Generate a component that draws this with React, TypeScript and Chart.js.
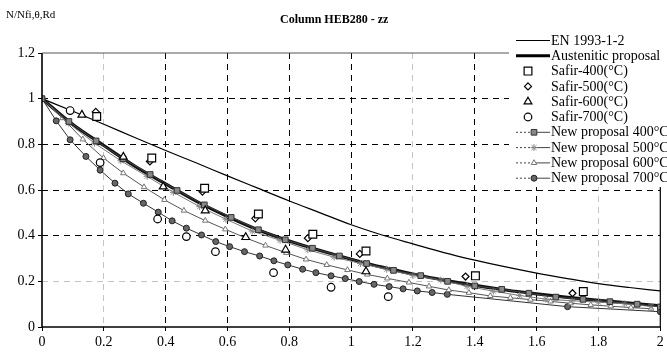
import React, { useEffect, useRef } from 'react';
import { Chart, registerables } from 'chart.js';
Chart.register(...registerables);

const TITLE = 'Column HEB280 - zz';
const Y_LABEL = 'N/Nfi,θ,Rd';
const X_TICKS = [0, 0.2, 0.4, 0.6, 0.8, 1, 1.2, 1.4, 1.6, 1.8, 2];
const Y_TICKS = [0, 0.2, 0.4, 0.6, 0.8, 1, 1.2];

const EN_X = [0, 0.1, 0.2, 0.3, 0.4, 0.5, 0.6, 0.7, 0.8, 0.9, 1.0, 1.1, 1.2, 1.3, 1.4, 1.5, 1.6, 1.7, 1.8, 1.9, 2.0];
const EN_Y = [1, 0.945, 0.888, 0.83, 0.773, 0.718, 0.662, 0.607, 0.552, 0.5, 0.448, 0.403, 0.364, 0.326, 0.293, 0.263, 0.236, 0.212, 0.19, 0.173, 0.158];

const AUS_X = [0, 0.1, 0.2, 0.3, 0.4, 0.5, 0.6, 0.7, 0.8, 0.9, 1.0, 1.1, 1.2, 1.3, 1.4, 1.5, 1.6, 1.7, 1.8, 1.9, 2.0];
const AUS_Y = [1, 0.887, 0.795, 0.705, 0.627, 0.55, 0.484, 0.425, 0.377, 0.335, 0.297, 0.262, 0.232, 0.205, 0.182, 0.162, 0.145, 0.13, 0.117, 0.105, 0.093];

const S400_X = [0.177, 0.355, 0.526, 0.7, 0.876, 1.048, 1.402, 1.751];
const S400_Y = [0.922, 0.74, 0.608, 0.495, 0.406, 0.333, 0.224, 0.155];
const S500_X = [0.174, 0.349, 0.519, 0.69, 0.86, 1.028, 1.37, 1.716];
const S500_Y = [0.942, 0.725, 0.593, 0.476, 0.389, 0.32, 0.221, 0.148];
const S600_X = [0.129, 0.263, 0.392, 0.528, 0.659, 0.788, 1.048];
const S600_Y = [0.929, 0.745, 0.615, 0.51, 0.393, 0.338, 0.243];
const S700_X = [0.091, 0.188, 0.374, 0.467, 0.561, 0.749, 0.935, 1.12];
const S700_Y = [0.948, 0.72, 0.473, 0.396, 0.33, 0.238, 0.174, 0.133];

const NP400_X = [0, 0.087, 0.175, 0.262, 0.35, 0.437, 0.525, 0.612, 0.7, 0.787, 0.875, 0.962, 1.05, 1.137, 1.225, 1.312, 1.4, 1.487, 1.575, 1.662, 1.75, 1.837, 1.925, 2.0];
const NP400_Y = [1, 0.9, 0.815, 0.737, 0.668, 0.598, 0.535, 0.48, 0.426, 0.382, 0.345, 0.311, 0.278, 0.248, 0.225, 0.2, 0.18, 0.165, 0.148, 0.131, 0.121, 0.111, 0.1, 0.088];
const NP500_X = [0, 0.085, 0.17, 0.255, 0.34, 0.425, 0.51, 0.595, 0.68, 0.77, 0.86, 0.945, 1.03, 1.115, 1.2, 1.29, 1.375, 1.46, 1.545, 1.63, 1.715, 1.8, 1.885, 1.97];
const NP500_Y = [1, 0.893, 0.805, 0.728, 0.66, 0.59, 0.527, 0.472, 0.42, 0.38, 0.338, 0.306, 0.278, 0.253, 0.226, 0.206, 0.178, 0.157, 0.138, 0.122, 0.115, 0.109, 0.102, 0.09];
const NP600_X = [0, 0.066, 0.132, 0.199, 0.263, 0.33, 0.396, 0.459, 0.528, 0.593, 0.659, 0.723, 0.79, 0.854, 0.921, 0.988, 1.052, 1.117, 1.187, 1.252, 1.316, 1.381, 1.45, 1.515, 1.58, 1.645, 1.71, 1.775, 1.84, 1.905, 1.97];
const NP600_Y = [1, 0.915, 0.822, 0.74, 0.674, 0.613, 0.557, 0.51, 0.466, 0.428, 0.39, 0.357, 0.325, 0.296, 0.272, 0.25, 0.23, 0.213, 0.195, 0.178, 0.162, 0.15, 0.136, 0.128, 0.12, 0.112, 0.104, 0.097, 0.091, 0.085, 0.08];
const NP700_X = [0, 0.046, 0.091, 0.142, 0.188, 0.236, 0.279, 0.328, 0.376, 0.421, 0.467, 0.516, 0.562, 0.607, 0.655, 0.704, 0.75, 0.795, 0.843, 0.886, 0.935, 0.981, 1.026, 1.074, 1.123, 1.168, 1.214, 1.262, 1.311, 1.7, 2.0];
const NP700_Y = [1, 0.903, 0.82, 0.747, 0.687, 0.63, 0.583, 0.542, 0.503, 0.465, 0.433, 0.403, 0.374, 0.352, 0.33, 0.311, 0.29, 0.272, 0.253, 0.238, 0.224, 0.212, 0.199, 0.187, 0.177, 0.167, 0.158, 0.151, 0.143, 0.089, 0.067];

const LEGEND_LABELS = [
  'EN 1993-1-2',
  'Austenitic proposal',
  'Safir-400(°C)',
  'Safir-500(°C)',
  'Safir-600(°C)',
  'Safir-700(°C)',
  'New proposal 400°C',
  'New proposal 500°C',
  'New proposal 600°C',
  'New proposal 700°C',
];

const pts = (xs: number[], ys: number[]) => xs.map((x, i) => ({ x, y: ys[i] }));
const SERIF = '"Liberation Serif", "Times New Roman", serif';

type Mk = { style: string; r: number; fill: string; stroke: string; lw: number };

function drawMarker(ctx: CanvasRenderingContext2D, m: Mk, x: number, y: number) {
  ctx.save();
  ctx.beginPath();
  ctx.fillStyle = m.fill;
  ctx.strokeStyle = m.stroke;
  ctx.lineWidth = m.lw;
  const r = m.r;
  if (m.style === 'rect') {
    const s = r * Math.SQRT1_2;
    ctx.rect(x - s, y - s, 2 * s, 2 * s);
    ctx.fill();
    ctx.stroke();
  } else if (m.style === 'rectRot') {
    ctx.moveTo(x, y - r);
    ctx.lineTo(x + r, y);
    ctx.lineTo(x, y + r);
    ctx.lineTo(x - r, y);
    ctx.closePath();
    ctx.fill();
    ctx.stroke();
  } else if (m.style === 'triangle') {
    const e = (3 * r) / Math.sqrt(3);
    const h = (e * Math.sqrt(3)) / 2;
    ctx.moveTo(x, y - (2 * h) / 3);
    ctx.lineTo(x + e / 2, y + h / 3);
    ctx.lineTo(x - e / 2, y + h / 3);
    ctx.closePath();
    ctx.fill();
    ctx.stroke();
  } else if (m.style === 'circle') {
    ctx.arc(x, y, r, 0, Math.PI * 2);
    ctx.fill();
    ctx.stroke();
  } else if (m.style === 'star') {
    for (let k = 0; k < 4; k++) {
      const a = (k * Math.PI) / 4;
      ctx.moveTo(x - Math.cos(a) * r, y - Math.sin(a) * r);
      ctx.lineTo(x + Math.cos(a) * r, y + Math.sin(a) * r);
    }
    ctx.stroke();
  }
  ctx.restore();
}

const MARKERS: (Mk | null)[] = [
  null,
  null,
  { style: 'rect', r: 5.5, fill: '#fff', stroke: '#000', lw: 1.2 },
  { style: 'rectRot', r: 3.5, fill: '#fff', stroke: '#000', lw: 1.2 },
  { style: 'triangle', r: 4.5, fill: '#fff', stroke: '#000', lw: 1.2 },
  { style: 'circle', r: 3.8, fill: '#fff', stroke: '#000', lw: 1.2 },
  { style: 'rect', r: 4, fill: '#888', stroke: '#333', lw: 1 },
  { style: 'star', r: 3.5, fill: '#999', stroke: '#888', lw: 1 },
  { style: 'triangle', r: 3.2, fill: '#fff', stroke: '#777', lw: 1 },
  { style: 'circle', r: 3, fill: '#666', stroke: '#222', lw: 1 },
];

const decor = {
  id: 'decor',
  beforeDraw(chart: any) {
    const ctx = chart.ctx;
    ctx.save();
    ctx.fillStyle = '#fff';
    ctx.fillRect(0, 0, chart.width, chart.height);
    ctx.restore();
  },
  afterDraw(chart: any) {
    const ctx: CanvasRenderingContext2D = chart.ctx;
    const a = chart.chartArea;
    ctx.save();
    // frame
    ctx.strokeStyle = '#000';
    ctx.lineWidth = 1.6;
    ctx.beginPath();
    ctx.moveTo(a.left, a.top);
    ctx.lineTo(a.left, a.bottom);
    ctx.lineTo(a.right, a.bottom);
    ctx.stroke();
    ctx.lineWidth = 1.2;
    ctx.beginPath();
    ctx.moveTo(a.right, a.bottom);
    ctx.lineTo(a.right, a.top);
    ctx.stroke();
    ctx.strokeStyle = '#555';
    ctx.lineWidth = 1;
    ctx.beginPath();
    ctx.moveTo(a.left, a.top);
    ctx.lineTo(a.right, a.top);
    ctx.stroke();

    // legend
    ctx.fillStyle = '#fff';
    ctx.fillRect(509, 32, chart.width - 509, 155);
    const rowY0 = 40.5;
    const dy = 15.3;
    const x0 = 516;
    const x1 = 550;
    const xm = 534;
    ctx.font = '14px ' + SERIF;
    ctx.textBaseline = 'middle';
    ctx.textAlign = 'left';
    LEGEND_LABELS.forEach((lab, i) => {
      const y = rowY0 + i * dy;
      if (i === 0 || i === 1) {
        ctx.strokeStyle = '#000';
        ctx.lineWidth = i === 0 ? 1 : 3;
        ctx.setLineDash([]);
        ctx.beginPath();
        ctx.moveTo(x0, y);
        ctx.lineTo(x1, y);
        ctx.stroke();
      } else if (i >= 6) {
        ctx.strokeStyle = '#444';
        ctx.lineWidth = 1;
        ctx.setLineDash([2, 2]);
        ctx.beginPath();
        ctx.moveTo(x0, y);
        ctx.lineTo(xm, y);
        ctx.stroke();
        ctx.setLineDash([]);
        ctx.beginPath();
        ctx.moveTo(xm, y);
        ctx.lineTo(x1, y);
        ctx.stroke();
      }
      const m = MARKERS[i];
      if (m) drawMarker(ctx, m, i >= 2 && i <= 5 ? 528 : xm, y);
      ctx.fillStyle = '#000';
      ctx.fillText(lab, 551, y + 0.5);
    });

    // titles
    ctx.fillStyle = '#000';
    ctx.font = 'bold 12px ' + SERIF;
    ctx.textAlign = 'left';
    ctx.textBaseline = 'middle';
    ctx.fillText(TITLE, 280, 20);
    ctx.font = '11px ' + SERIF;
    ctx.fillText(Y_LABEL, 6, 15);
    ctx.restore();
  },
};

const fmt = (v: number) => String(Number(Number(v).toFixed(1)));

export default function App() {
  const ref = useRef<HTMLCanvasElement>(null);
  useEffect(() => {
    const ds = (label: string, xs: number[], ys: number[], o: any) => ({
      label,
      data: pts(xs, ys),
      showLine: true,
      pointRadius: 0,
      ...o,
    });
    const safir = (label: string, xs: number[], ys: number[], m: Mk) =>
      ds(label, xs, ys, {
        showLine: false,
        pointStyle: m.style,
        pointRadius: m.r,
        pointBackgroundColor: m.fill,
        pointBorderColor: m.stroke,
        pointBorderWidth: m.lw,
        order: 0,
      });
    const np = (label: string, xs: number[], ys: number[], m: Mk, line: string, order: number) =>
      ds(label, xs, ys, {
        borderColor: line,
        borderWidth: 1,
        pointStyle: m.style,
        pointRadius: m.r,
        pointBackgroundColor: m.fill,
        pointBorderColor: m.stroke,
        pointBorderWidth: m.lw,
        tension: 0,
        order,
      });
    const chart = new Chart(ref.current as HTMLCanvasElement, {
      type: 'scatter',
      data: {
        datasets: [
          safir(LEGEND_LABELS[2], S400_X, S400_Y, MARKERS[2] as Mk),
          safir(LEGEND_LABELS[3], S500_X, S500_Y, MARKERS[3] as Mk),
          safir(LEGEND_LABELS[4], S600_X, S600_Y, MARKERS[4] as Mk),
          safir(LEGEND_LABELS[5], S700_X, S700_Y, MARKERS[5] as Mk),
          np(LEGEND_LABELS[6], NP400_X, NP400_Y, MARKERS[6] as Mk, '#444', 1),
          np(LEGEND_LABELS[7], NP500_X, NP500_Y, MARKERS[7] as Mk, '#777', 2),
          ds(LEGEND_LABELS[1], AUS_X, AUS_Y, { borderColor: '#111', borderWidth: 3.2, cubicInterpolationMode: 'monotone', order: 3 }),
          np(LEGEND_LABELS[8], NP600_X, NP600_Y, MARKERS[8] as Mk, '#555', 4),
          np(LEGEND_LABELS[9], NP700_X, NP700_Y, MARKERS[9] as Mk, '#333', 5),
          ds(LEGEND_LABELS[0], EN_X, EN_Y, { borderColor: '#000', borderWidth: 1.2, cubicInterpolationMode: 'monotone', order: 6 }),
        ],
      },
      options: {
        responsive: false,
        animation: false,
        events: [],
        layout: { padding: { left: 0, right: 5, top: 53, bottom: 0 } },
        plugins: { legend: { display: false }, title: { display: false }, tooltip: { enabled: false } },
        scales: {
          x: {
            type: 'linear',
            min: 0,
            max: 2,
            afterBuildTicks: (s: any) => {
              s.ticks = X_TICKS.map((v) => ({ value: v }));
            },
            afterFit: (s: any) => {
              s.height = 26;
            },
            ticks: {
              autoSkip: false,
              maxRotation: 0,
              padding: 3,
              color: '#000',
              font: { family: SERIF, size: 14 },
              callback: (v: any) => fmt(v),
            },
            grid: {
              color: (c: any) => {
                const v = c.tick ? Math.round(c.tick.value * 10) / 10 : 0;
                if (v === 0 || v === 2) return 'rgba(0,0,0,0)';
                if (v === 0.2 || v === 1.2 || v === 1.8) return '#c4c4c4';
                return '#000';
              },
              lineWidth: 1,
              tickLength: 4,
              tickColor: '#000',
              tickBorderDash: [],
            },
            border: { display: false, dash: [6, 5] },
          },
          y: {
            type: 'linear',
            min: 0,
            max: 1.2,
            afterBuildTicks: (s: any) => {
              s.ticks = Y_TICKS.map((v) => ({ value: v }));
            },
            afterFit: (s: any) => {
              s.width = 42;
            },
            ticks: {
              autoSkip: false,
              padding: 3,
              color: '#000',
              font: { family: SERIF, size: 14 },
              callback: (v: any) => fmt(v),
            },
            grid: {
              color: (c: any) => {
                const v = c.tick ? Math.round(c.tick.value * 10) / 10 : 0;
                if (v === 0 || v === 1.2) return 'rgba(0,0,0,0)';
                if (v === 0.2) return '#c4c4c4';
                return '#000';
              },
              lineWidth: 1,
              tickLength: 4,
              tickColor: '#000',
              tickBorderDash: [],
            },
            border: { display: false, dash: [6, 5] },
          },
        },
      },
      plugins: [decor],
    } as any);
    return () => chart.destroy();
  }, []);
  return (
    <div style={{ position: 'fixed', left: 0, top: 0, width: 667, height: 353, background: '#fff' }}>
      <canvas ref={ref} width={667} height={353} style={{ width: 667, height: 353, display: 'block' }} />
    </div>
  );
}
